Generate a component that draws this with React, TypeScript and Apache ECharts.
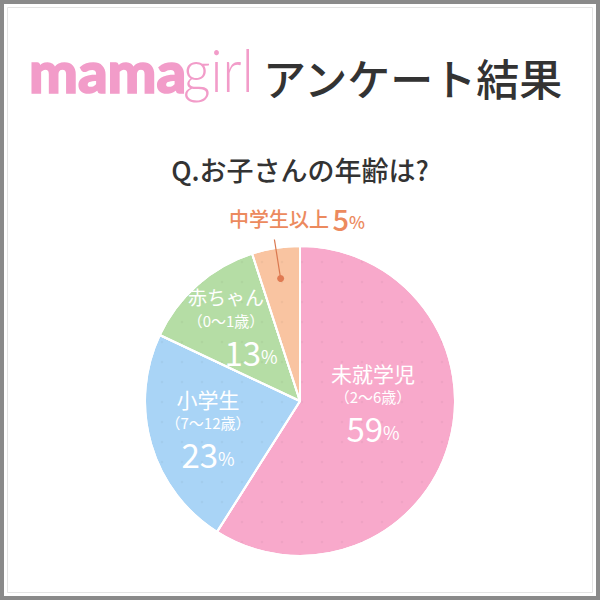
import React, { useEffect, useRef } from "react";
import * as echarts from "echarts";

const categories = ["未就学児", "小学生", "赤ちゃん", "中学生以上"];
const ageRanges = ["（2〜6歳）", "（7〜12歳）", "（0〜1歳）", ""];
const values = [59, 23, 13, 5];
const colors = ["#F8A9CB", "#A9D4F6", "#B5DDA5", "#F9C4A1"];

const FONT = '"Noto Sans CJK JP", "Noto Sans", sans-serif';
const CX = 300;
const CY = 401;
const R = 155;

// label centres (styling offsets)
const labelPos = [
  [373, 404],
  [208, 430],
  [226, 328],
  [297, 218],
];
const nameSizes = [21, 21, 19, 20];

export default function App() {
  const ref = useRef<HTMLDivElement>(null);
  useEffect(() => {
    const chart = echarts.init(ref.current!, null, { renderer: "svg" });
    const total = values.reduce((a, b) => a + b, 0);
    const before = values.slice(0, 3).reduce((a, b) => a + b, 0);
    const mid = ((before + values[3] / 2) / total) * Math.PI * 2;
    const sx = Math.sin(mid);
    const sy = -Math.cos(mid);
    const dotR = R * 0.8;
    const endR = R * 1.055;

    const data = categories.map((name, i) => {
      const isLast = i === 3;
      return {
        name,
        value: values[i],
        itemStyle: { color: colors[i] },
        label: isLast
          ? {
              show: true,
              position: "inside",
              formatter: `{n|${name}} {v|${values[i]}}{p|%}`,
              rich: {
                n: { fontSize: nameSizes[i], color: "#EC8A5E", fontFamily: FONT, fontWeight: 500 },
                v: { fontSize: 29, color: "#EC8A5E", fontFamily: FONT, fontWeight: 500 },
                p: { fontSize: 17, color: "#EC8A5E", fontFamily: FONT, fontWeight: 500, padding: [6, 0, 0, 0] },
              },
            }
          : {
              show: true,
              position: "inside",
              formatter: `{n|${name}}\n{a|${ageRanges[i]}}\n{v|${values[i]}}{p|%}`,
              rich: {
                n: { fontSize: nameSizes[i], color: "#fff", fontFamily: FONT, lineHeight: 25 },
                a: { fontSize: 15, color: "#fff", fontFamily: FONT, lineHeight: 23 },
                v: { fontSize: 33, color: "#fff", fontFamily: FONT, lineHeight: 40, padding: i === 2 ? [0, 0, 0, 50] : [0, 0, 0, 0] },
                p: { fontSize: 18, color: "#fff", fontFamily: FONT, lineHeight: 40, padding: [8, 0, 0, 0] },
              },
            },
      };
    });

    chart.setOption({
      animation: false,
      backgroundColor: "#fff",
      graphic: [
        { type: "rect", shape: { x: 2, y: 2, width: 596, height: 596 }, style: { fill: "none", stroke: "#8a8a8a", lineWidth: 4 } },
        { type: "rect", shape: { x: 7.5, y: 7.5, width: 585, height: 585 }, style: { fill: "none", stroke: "#e4e4e4", lineWidth: 1 } },
        {
          type: "text", x: 29, y: 70,
          style: { text: "mama", font: '900 58px Lato, "DejaVu Sans", sans-serif', fill: "#F29CC9", stroke: "#F29CC9", lineWidth: 1.6, align: "left", verticalAlign: "middle" },
          scaleX: 1.0,
        },
        {
          type: "text", x: 183, y: 69,
          style: { text: "girl", font: '300 60px Lato, "DejaVu Sans", sans-serif', fill: "#F29CC9", align: "left", verticalAlign: "middle" },
          scaleX: 0.9,
        },
        {
          type: "text", x: 263, y: 77,
          style: { text: "アンケート結果", font: `500 43px ${FONT}`, fill: "#333", align: "left", verticalAlign: "middle" },
        },
        {
          type: "text", x: 300, y: 169,
          style: { text: "Q.お子さんの年齢は?", font: `500 27px ${FONT}`, fill: "#333", align: "center", verticalAlign: "middle" },
        },
        {
          type: "line", z: 100,
          shape: { x1: CX + sx * dotR, y1: CY + sy * dotR, x2: CX + sx * endR, y2: CY + sy * endR },
          style: { stroke: "#D9774E", lineWidth: 1.2 },
        },
        {
          type: "circle", z: 100,
          shape: { cx: CX + sx * dotR, cy: CY + sy * dotR, r: 3.5 },
          style: { fill: "#E07A52" },
        },
      ],
      series: [
        {
          type: "pie",
          center: [CX, CY],
          radius: R,
          startAngle: 90,
          clockwise: true,
          silent: true,
          itemStyle: {
            borderColor: "#fff",
            borderWidth: 2,
            decal: {
              symbol: "circle",
              symbolSize: 0.6,
              color: "rgba(0,0,0,0.035)",
              dashArrayX: [4, 16],
              dashArrayY: [4, 16],
            },
          },
          labelLine: { show: false },
          labelLayout: (params: any) => {
            const p = labelPos[params.dataIndex];
            return { x: p[0], y: p[1], align: "center", verticalAlign: "middle" };
          },
          data,
        },
      ],
    });
    return () => chart.dispose();
  }, []);
  return (
    <div
      ref={ref}
      style={{ position: "absolute", left: 0, top: 0, width: 600, height: 600 }}
    />
  );
}
